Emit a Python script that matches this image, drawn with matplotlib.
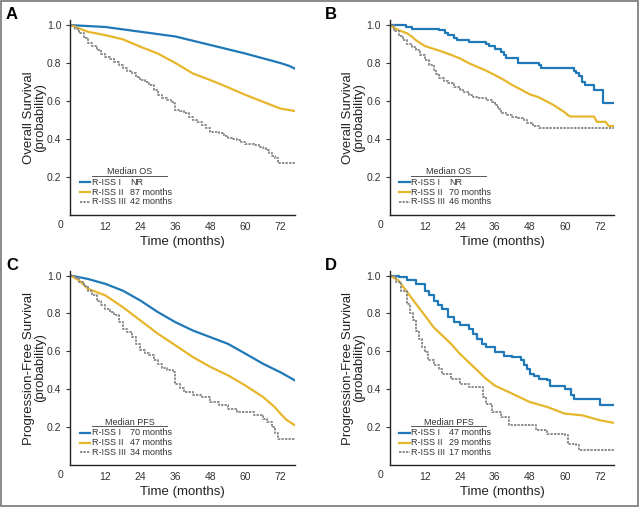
import matplotlib
matplotlib.use('Agg')
import matplotlib.pyplot as plt
from matplotlib.lines import Line2D
from matplotlib.patches import Rectangle

plt.rcParams['font.family'] = ['Liberation Sans Narrow', 'Liberation Sans', 'DejaVu Sans']

BLUE = '#1f78b8'
YELLOW = '#e6b62c'
GRAY = '#8c8c8c'

groups = ['R-ISS I', 'R-ISS II', 'R-ISS III']

# panel A - overall survival (cohort 1)
a_t1 = [0, 12, 24, 36, 48, 60, 66, 72, 75, 77]
a_s1 = [1.0, 0.99, 0.965, 0.94, 0.895, 0.85, 0.825, 0.80, 0.785, 0.77]
a_t2 = [0, 6, 12, 18, 24, 30, 36, 42, 48, 54, 60, 66, 72, 77]
a_s2 = [1.0, 0.965, 0.947, 0.925, 0.886, 0.85, 0.80, 0.745, 0.71, 0.672, 0.632, 0.596, 0.56, 0.547]
a_t3 = [0, 1.5, 3, 4.5, 6, 7.5, 9, 10.5, 12, 13.5, 15, 16.5, 18, 19.5, 21, 22.5, 24, 25.5, 27, 28.5, 30,
        31.5, 33, 34.5, 35.5, 36, 37.5, 39, 40.5, 42, 43.5, 45, 46.5, 48, 49.5, 51, 52.5, 54, 55.5, 57,
        58.5, 60, 61.5, 63, 64.5, 66, 67, 68, 69, 70, 71, 77]
a_s3 = [1.0, 0.98, 0.956, 0.93, 0.907, 0.89, 0.868, 0.85, 0.83, 0.82, 0.807, 0.79, 0.772, 0.76, 0.745, 0.728,
        0.71, 0.698, 0.684, 0.66, 0.632, 0.618, 0.605, 0.596, 0.588, 0.553, 0.545, 0.535, 0.518, 0.50, 0.487,
        0.474, 0.457, 0.439, 0.435, 0.43, 0.418, 0.404, 0.40, 0.395, 0.385, 0.374, 0.371, 0.368, 0.36, 0.35,
        0.34, 0.325, 0.31, 0.298, 0.272, 0.272]

# panel B - overall survival (cohort 2)
b_t1 = [0, 5.5, 7.5, 17, 19, 20, 22, 23, 27, 33, 34, 36, 38, 39, 40, 44, 51, 52, 62, 63, 64, 65, 66, 67,
        69, 70, 72, 73, 77]
b_s1 = [1.0, 0.99, 0.982, 0.975, 0.96, 0.95, 0.93, 0.92, 0.913, 0.90, 0.89, 0.875, 0.86, 0.84, 0.825, 0.80,
        0.79, 0.775, 0.775, 0.76, 0.745, 0.73, 0.70, 0.685, 0.685, 0.66, 0.66, 0.59, 0.59]
b_t2 = [0, 1.5, 3, 4.5, 6, 7.5, 9, 10.5, 12, 15, 18, 21, 24, 27, 30, 33, 36, 39, 42, 45, 48, 51, 54, 56,
        58, 60, 61, 62, 70, 71, 74, 75, 77]
b_s2 = [1.0, 0.985, 0.974, 0.965, 0.956, 0.94, 0.92, 0.905, 0.89, 0.875, 0.86, 0.843, 0.825, 0.80, 0.78,
        0.76, 0.737, 0.712, 0.684, 0.66, 0.635, 0.62, 0.596, 0.58, 0.56, 0.54, 0.526, 0.518, 0.518, 0.49,
        0.49, 0.468, 0.468]
b_t3 = [0, 1.5, 3, 4.5, 6, 7.5, 9, 10.5, 12, 13.5, 15, 16, 17, 18.5, 20, 22, 24, 25.5, 27, 28.5, 30, 33,
        35, 36, 37, 38, 40, 42, 44, 46, 47, 49, 51, 77]
b_s3 = [1.0, 0.97, 0.94, 0.92, 0.90, 0.885, 0.87, 0.845, 0.816, 0.79, 0.763, 0.74, 0.72, 0.705, 0.693,
        0.675, 0.658, 0.645, 0.632, 0.62, 0.614, 0.605, 0.595, 0.579, 0.56, 0.535, 0.525, 0.518, 0.51, 0.50,
        0.482, 0.47, 0.456, 0.456]

# panel C - progression-free survival (cohort 1)
c_t1 = [0, 6, 12, 18, 24, 30, 36, 42, 48, 54, 60, 66, 72, 77]
c_s1 = [1.0, 0.982, 0.956, 0.92, 0.868, 0.807, 0.754, 0.71, 0.675, 0.64, 0.588, 0.535, 0.49, 0.447]
c_t2 = [0, 3, 6, 12, 18, 24, 30, 36, 42, 48, 54, 60, 66, 70, 72, 74, 77]
c_s2 = [1.0, 0.974, 0.93, 0.895, 0.833, 0.763, 0.693, 0.632, 0.57, 0.518, 0.474, 0.42, 0.36, 0.307,
        0.272, 0.24, 0.21]
c_t3 = [0, 1.5, 3, 4.5, 6, 7.5, 9, 10.5, 12, 13.5, 15, 16.5, 18, 19.5, 21, 22.5, 24, 25.5, 27, 28.5, 30,
        31.5, 33, 35, 36, 37.5, 39, 42, 45, 48, 51, 54, 57, 60, 63, 66, 67.5, 69, 70, 71, 77]
c_s3 = [1.0, 0.985, 0.965, 0.945, 0.92, 0.895, 0.868, 0.845, 0.825, 0.81, 0.79, 0.755, 0.72, 0.70, 0.675,
        0.64, 0.605, 0.59, 0.579, 0.555, 0.535, 0.515, 0.50, 0.49, 0.43, 0.405, 0.386, 0.368, 0.36, 0.333,
        0.316, 0.298, 0.281, 0.281, 0.263, 0.246, 0.23, 0.20, 0.17, 0.14, 0.14]

# panel D - progression-free survival (cohort 2)
d_t1 = [0, 3, 6, 9, 12, 13.5, 15, 16.5, 18, 20, 22, 24, 27, 28.5, 30, 31.5, 33, 36, 39, 42, 45, 46, 47, 48,
        49.5, 51, 54, 55, 57, 60, 62, 63, 71, 72, 77]
d_s1 = [1.0, 0.99, 0.974, 0.956, 0.92, 0.895, 0.868, 0.845, 0.825, 0.78, 0.755, 0.737, 0.72, 0.69, 0.667,
        0.64, 0.623, 0.596, 0.574, 0.57, 0.553, 0.53, 0.509, 0.482, 0.47, 0.456, 0.447, 0.42, 0.42, 0.404,
        0.368, 0.35, 0.35, 0.316, 0.316]
d_t2 = [0, 3, 6, 9, 12, 15, 18, 21, 24, 27, 30, 33, 36, 42, 48, 54, 60, 66, 72, 77]
d_s2 = [1.0, 0.974, 0.912, 0.85, 0.79, 0.728, 0.684, 0.64, 0.588, 0.544, 0.50, 0.456, 0.42, 0.377, 0.333,
        0.307, 0.272, 0.263, 0.237, 0.223]
d_t3 = [0, 2, 4, 6, 7, 8, 9, 10, 11, 12, 13, 15, 17, 18, 21, 24, 27, 31, 32, 33, 35, 38, 41, 49, 50, 54,
        60, 61, 64, 65, 77]
d_s3 = [1.0, 0.965, 0.92, 0.85, 0.80, 0.763, 0.71, 0.667, 0.623, 0.596, 0.553, 0.526, 0.509, 0.482, 0.456,
        0.43, 0.412, 0.412, 0.36, 0.325, 0.281, 0.254, 0.21, 0.21, 0.184, 0.167, 0.158, 0.114, 0.105, 0.079,
        0.079]

panels = [
    ('A', 'Overall Survival\n(probability)', 'Median OS', ['NR', '87 months', '42 months'],
     [(a_t1, a_s1), (a_t2, a_s2), (a_t3, a_s3)], [0.110, 0.578], [False, False, True]),
    ('B', 'Overall Survival\n(probability)', 'Median OS', ['NR', '70 months', '46 months'],
     [(b_t1, b_s1), (b_t2, b_s2), (b_t3, b_s3)], [0.609, 0.578], [True, False, True]),
    ('C', 'Progression-Free Survival\n(probability)', 'Median PFS', ['70 months', '47 months', '34 months'],
     [(c_t1, c_s1), (c_t2, c_s2), (c_t3, c_s3)], [0.110, 0.086], [False, False, True]),
    ('D', 'Progression-Free Survival\n(probability)', 'Median PFS', ['47 months', '29 months', '17 months'],
     [(d_t1, d_s1), (d_t2, d_s2), (d_t3, d_s3)], [0.609, 0.086], [True, False, True]),
]

colors = [BLUE, YELLOW, GRAY]
styles = ['-', '-', (0, (1.2, 0.6))]
widths = [1.6, 1.6, 1.4]

fig = plt.figure(figsize=(6.4, 5.09), dpi=100)
fig.patches.append(Rectangle((0.001, 0.006), 0.996, 0.992, transform=fig.transFigure,
                             fill=False, edgecolor='#777777', linewidth=1.2))

for letter, ylab, leg_title, medians, curves, pos, stepped in panels:
    ax = fig.add_axes([pos[0], pos[1], 0.351, 0.382])
    for (t, s), c, ls, lw, st in zip(curves, colors, styles, widths, stepped):
        if st:
            ax.step(t, s, where='post', color=c, linestyle=ls, linewidth=lw)
        else:
            ax.plot(t, s, color=c, linestyle=ls, linewidth=lw)
    ax.set_xlim(0, 77)
    ax.set_ylim(0, 1.025)
    ax.set_xticks([12, 24, 36, 48, 60, 72])
    ax.set_yticks([0.2, 0.4, 0.6, 0.8, 1.0])
    ax.set_yticklabels(['0.2', '0.4', '0.6', '0.8', '1.0'])
    ax.tick_params(axis='both', labelsize=7.5, colors='#333333', length=3, width=0.8)
    ax.tick_params(axis='x', length=0, pad=5)
    for sp in ['top', 'right']:
        ax.spines[sp].set_visible(False)
    for sp in ['left', 'bottom']:
        ax.spines[sp].set_color('#222222')
        ax.spines[sp].set_linewidth(1.0)
    ax.text(-0.042, -0.05, '0', transform=ax.transAxes, ha='center', va='center',
            fontsize=7.5, color='#333333')
    ax.set_xlabel('Time (months)', fontsize=9.5, color='#222222', labelpad=3)
    ax.set_ylabel(ylab, fontsize=9.5, color='#222222', labelpad=0.5, linespacing=0.95)
    ax.text(-0.26, 1.028, letter, transform=ax.transAxes, fontsize=12, fontweight='bold',
            family='Liberation Sans', ha='center', va='center')

    # legend block
    ax.text(0.263, 0.221, leg_title, transform=ax.transAxes, fontsize=6.5, color='#333333',
            ha='center', va='center')
    ax.add_line(Line2D([0.096, 0.43], [0.201, 0.201], transform=ax.transAxes,
                       color='#555555', linewidth=0.7))
    for i, (g, m) in enumerate(zip(groups, medians)):
        yy = [0.168, 0.115, 0.066][i]
        ax.add_line(Line2D([0.042, 0.088], [yy, yy], transform=ax.transAxes, color=colors[i],
                           linestyle=styles[i], linewidth=widths[i]))
        ax.text(0.096, yy, g, transform=ax.transAxes, fontsize=6.5, color='#333333', va='center')
        ax.text(0.265, yy, m, transform=ax.transAxes, fontsize=6.5, color='#333333', va='center')

fig.savefig('out.png', dpi=100)
